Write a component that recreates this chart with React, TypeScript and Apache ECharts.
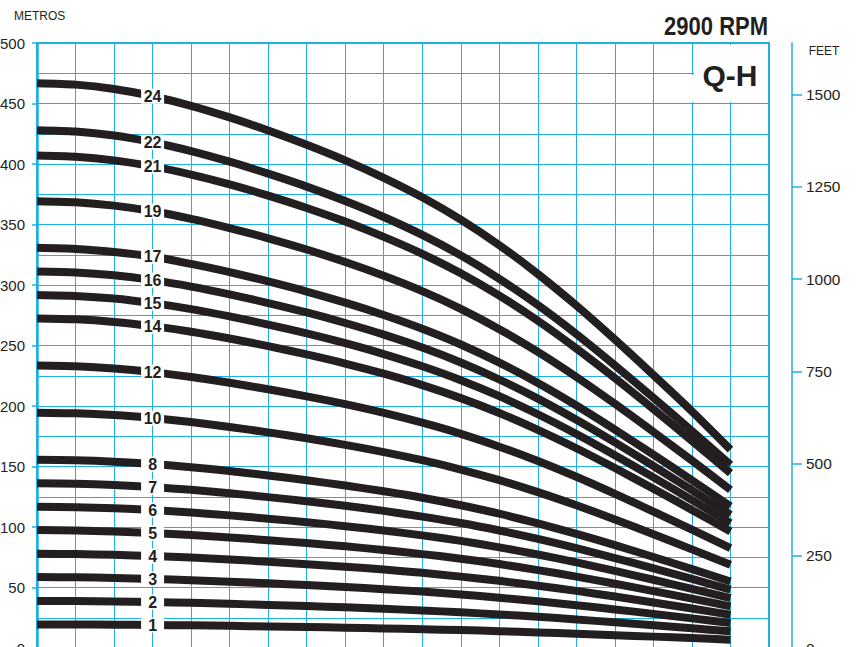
import React, { useEffect, useRef } from "react";
import * as echarts from "echarts";

// Flow positions (grid columns) where values were read
const flowPoints = [0, 1, 2, 3, 4, 5, 6, 7, 8, 9, 10, 11, 12, 13, 14, 15, 16, 17, 18];

// Head (metres) for each stage count
const stageLabels = ["1", "2", "3", "4", "5", "6", "7", "8", "10", "12", "14", "15", "16", "17", "19", "21", "22", "24"];
const head1 = [19.5, 19.4, 19.3, 19.0, 18.7, 18.3, 17.8, 17.3, 16.8, 16.2, 15.5, 14.8, 13.9, 12.9, 11.8, 10.6, 9.4, 8.2, 6.9];
const head2 = [38.9, 38.8, 38.5, 38.0, 37.3, 36.5, 35.6, 34.7, 33.6, 32.4, 31.0, 29.5, 27.7, 25.8, 23.6, 21.2, 18.8, 16.3, 13.8];
const head3 = [58.6, 58.4, 57.9, 57.0, 56.0, 54.8, 53.5, 52.0, 50.4, 48.6, 46.6, 44.3, 41.6, 38.6, 35.4, 31.9, 28.2, 24.5, 20.6];
const head4 = [77.8, 77.6, 77.0, 76.0, 74.7, 73.1, 71.3, 69.3, 67.2, 64.8, 62.1, 59.0, 55.5, 51.5, 47.2, 42.5, 37.6, 32.6, 27.5];
const head5 = [97.5, 97.1, 96.3, 95.0, 93.4, 91.4, 89.1, 86.7, 84.0, 81.0, 77.6, 73.8, 69.4, 64.4, 59.0, 53.1, 47.0, 40.8, 34.4];
const head6 = [116.7, 116.4, 115.5, 114.0, 112.0, 109.6, 106.9, 104.0, 100.7, 97.1, 93.1, 88.5, 83.2, 77.3, 70.7, 63.7, 56.4, 48.9, 41.3];
const head7 = [136.2, 135.8, 134.8, 133.0, 130.7, 127.9, 124.7, 121.3, 117.5, 113.3, 108.6, 103.3, 97.1, 90.2, 82.5, 74.3, 65.8, 57.1, 48.2];
const head8 = [155.6, 155.2, 154.0, 152.0, 149.4, 146.2, 142.6, 138.6, 134.3, 129.5, 124.2, 118.0, 111.0, 103.0, 94.3, 85.0, 75.2, 65.2, 55.0];
const head10 = [194.5, 194.0, 192.5, 190.0, 186.7, 182.7, 178.2, 173.3, 167.9, 161.9, 155.2, 147.5, 138.7, 128.8, 117.9, 106.2, 94.0, 81.5, 68.8];
const head12 = [233.4, 232.8, 231.0, 228.0, 224.0, 219.2, 213.8, 208.0, 201.5, 194.3, 186.2, 177.0, 166.4, 154.6, 141.5, 127.4, 112.8, 97.8, 82.6];
const head14 = [272.3, 271.6, 269.5, 266.0, 261.4, 255.8, 249.5, 242.6, 235.1, 226.7, 217.3, 206.5, 194.2, 180.3, 165.1, 148.7, 131.6, 114.1, 96.3];
const head15 = [291.8, 291.0, 288.8, 285.0, 280.1, 274.1, 267.3, 260.0, 251.9, 242.9, 232.8, 221.3, 208.1, 193.2, 176.9, 159.3, 141.0, 122.3, 103.2];
const head16 = [311.2, 310.4, 308.0, 304.0, 298.7, 292.3, 285.1, 277.3, 268.6, 259.0, 248.3, 236.0, 221.9, 206.1, 188.6, 169.9, 150.4, 130.4, 110.1];
const head17 = [330.7, 329.8, 327.3, 323.5, 317.4, 310.6, 302.9, 294.6, 285.4, 275.2, 263.8, 250.8, 235.8, 219.0, 200.4, 180.5, 159.8, 138.6, 117.0];
const head19 = [369.3, 368.4, 365.6, 361.0, 354.7, 347.1, 338.6, 329.3, 319.0, 307.6, 294.9, 280.3, 263.5, 244.7, 224.0, 201.8, 178.6, 154.9, 130.7];
const head21 = [407.0, 406.0, 403.0, 398.0, 391.3, 383.2, 373.9, 363.7, 352.4, 339.8, 325.8, 309.7, 291.2, 270.4, 247.5, 223.0, 197.4, 171.2, 144.5];
const head22 = [427.9, 426.8, 423.5, 418.0, 410.7, 401.9, 392.0, 381.3, 369.4, 356.2, 341.4, 324.5, 305.1, 283.4, 259.4, 233.6, 206.8, 179.3, 151.4];
const head24 = [466.8, 465.6, 462.0, 456.0, 448.1, 438.5, 427.7, 415.9, 403.0, 388.6, 372.5, 354.0, 332.9, 309.1, 283.0, 254.9, 225.6, 195.6, 164.0];
const allHeads = [head1, head2, head3, head4, head5, head6, head7, head8, head10, head12, head14, head15, head16, head17, head19, head21, head22, head24];

// Axis ticks
const metreTicks = [0, 50, 100, 150, 200, 250, 300, 350, 400, 450, 500];
const feetTicks = [0, 250, 500, 750, 1000, 1250, 1500];
const FEET_MAX = 500 / 0.3048;
const LABEL_INDEX = 3; // label sits on the point at flow column 3

const GRID = "#1fb0e6";
const INK = "#231f20";
const FONT = "'Liberation Sans', Arial, sans-serif";

export default function App() {
  const ref = useRef<HTMLDivElement>(null);
  useEffect(() => {
    if (!ref.current) return;
    document.body.style.margin = "0";
    const chart = echarts.init(ref.current, null, { renderer: "svg" });
    const series = allHeads.map((h, si) => ({
      type: "line",
      name: stageLabels[si],
      smooth: 0.25,
      symbol: "none",
      silent: true,
      z: 3,
      lineStyle: { color: INK, width: 8, cap: "butt", join: "round" },
      data: h.map((v, i) =>
        i === LABEL_INDEX
          ? {
              value: [flowPoints[i], v],
              symbol: "rect",
              symbolSize: [23, 15],
              itemStyle: { color: "#ffffff", borderWidth: 0 },
              label: {
                show: true,
                position: "inside",
                formatter: stageLabels[si],
                color: INK,
                fontFamily: FONT,
                fontWeight: "bold",
                fontSize: 16,
              },
            }
          : { value: [flowPoints[i], v] }
      ),
    }));

    chart.setOption({
      animation: false,
      grid: {
        left: 37,
        right: 87,
        top: 43,
        bottom: 8,
        show: true,
        outerBoundsMode: "none",
        containLabel: false,
        borderColor: GRID,
        borderWidth: 2,
        backgroundColor: "transparent",
      },
      xAxis: {
        type: "value",
        min: 0,
        max: 19,
        interval: 1,
        axisLine: { show: false },
        axisTick: { show: false },
        axisLabel: { show: false },
        splitLine: { show: true, lineStyle: { color: GRID, width: 1 } },
      },
      yAxis: [
        {
          type: "value",
          min: 0,
          max: 500,
          interval: 50,
          position: "left",
          axisLine: { show: true, lineStyle: { color: GRID, width: 2.5 } },
          axisTick: { show: true, inside: false, length: 5, lineStyle: { color: GRID, width: 1.5 } },
          axisLabel: {
            margin: 12,
            color: INK,
            fontFamily: FONT,
            fontSize: 15,
            customValues: metreTicks,
          },
          splitLine: { show: true, lineStyle: { color: GRID, width: 1 } },
          minorTick: { show: false, splitNumber: 2 },
          minorSplitLine: { show: true, lineStyle: { color: GRID, width: 1 } },
        },
        {
          type: "value",
          min: 0,
          max: FEET_MAX,
          position: "right",
          offset: 23,
          axisLine: { show: true, lineStyle: { color: GRID, width: 1.5 } },
          axisTick: {
            show: true,
            inside: false,
            length: 10,
            lineStyle: { color: GRID, width: 1.5 },
            customValues: feetTicks,
          },
          axisLabel: {
            margin: 14,
            color: INK,
            fontFamily: FONT,
            fontSize: 15.5,
            customValues: feetTicks,
            formatter: (v: number) => String(v),
          },
          splitLine: { show: false },
        },
      ],
      graphic: [
        { type: "rect", z: 50, shape: { x: 694, y: 45, width: 74, height: 57 }, style: { fill: "#ffffff" } },
        { type: "rect", z: 50, shape: { x: 690, y: 75, width: 6, height: 27 }, style: { fill: "#ffffff" } },
        {
          type: "text",
          z: 60,
          x: 730,
          y: 75,
          style: {
            text: "Q-H",
            fill: INK,
            font: `bold 30px ${FONT}`,
            textAlign: "center",
            textVerticalAlign: "middle",
          },
        },
        {
          type: "text",
          z: 60,
          x: 768,
          y: 27,
          scaleX: 0.88,
          style: {
            text: "2900 RPM",
            fill: INK,
            font: `bold 25px ${FONT}`,
            textAlign: "right",
            textVerticalAlign: "middle",
          },
        },
        {
          type: "text",
          z: 60,
          x: 14,
          y: 16,
          style: {
            text: "METROS",
            fill: INK,
            font: `12px ${FONT}`,
            textAlign: "left",
            textVerticalAlign: "middle",
          },
        },
        {
          type: "text",
          z: 60,
          x: 824,
          y: 51,
          style: {
            text: "FEET",
            fill: INK,
            font: `12px ${FONT}`,
            textAlign: "center",
            textVerticalAlign: "middle",
          },
        },
      ],
      series,
    });
    return () => chart.dispose();
  }, []);
  return (
    <div
      ref={ref}
      style={{ position: "fixed", left: 0, top: 0, width: 856, height: 656, background: "#fff" }}
    />
  );
}
